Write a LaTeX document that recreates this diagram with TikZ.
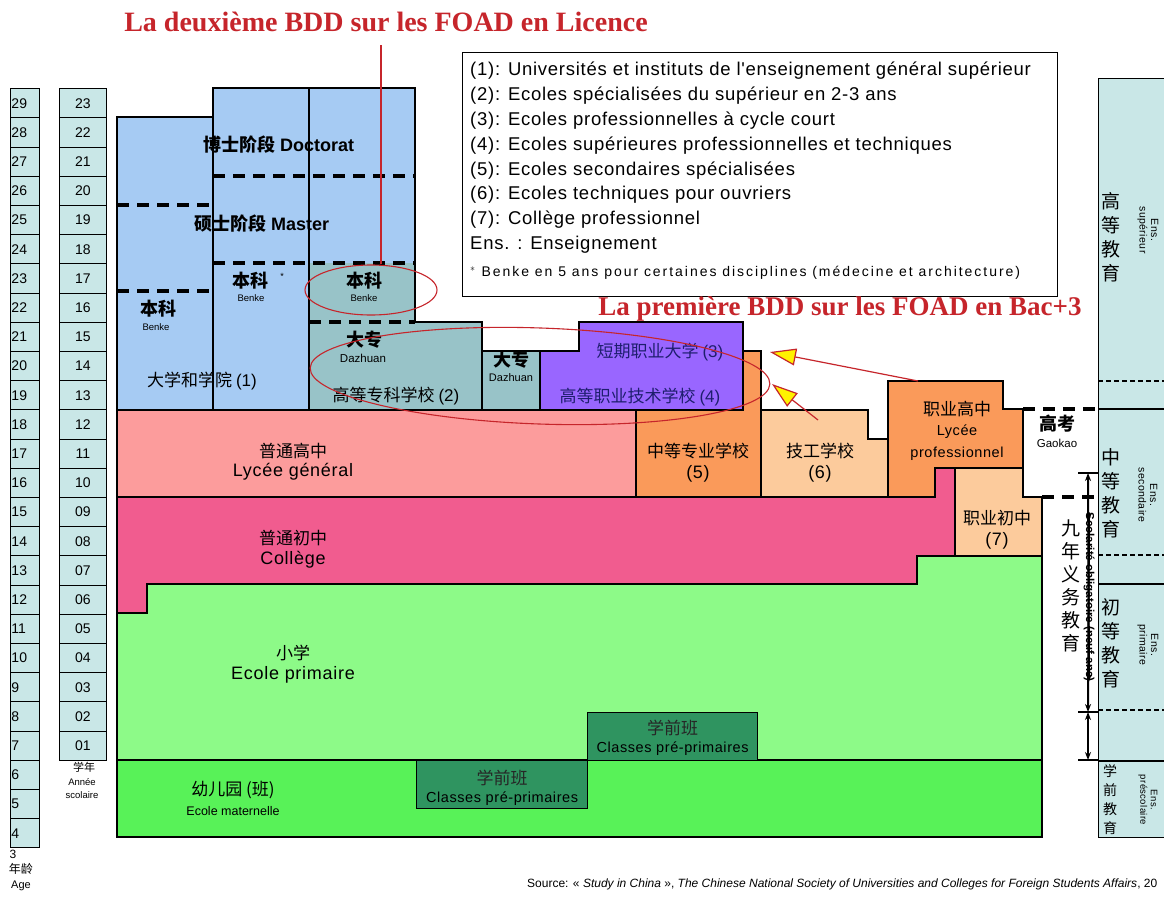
\documentclass[tikz,border=0pt]{standalone}
\usepackage{fontspec}
\setmainfont{Liberation Sans}
\newfontfamily\wide{Liberation Sans}[LetterSpace=4]
\newfontfamily\widest{Liberation Sans}[LetterSpace=14]
\newfontfamily\cjk{Noto Sans CJK SC}
\newfontfamily\tser{Liberation Serif}
\usetikzlibrary{shapes.geometric,arrows.meta}
\newcommand\myfs[2]{\fontsize{#1}{#2}\selectfont}
\definecolor{cteal}{HTML}{C9E7E7}
\definecolor{cblue}{HTML}{A6CBF3}
\definecolor{cteal2}{HTML}{98C3C8}
\definecolor{cpurple}{HTML}{9966FF}
\definecolor{csalmon}{HTML}{FC9C9C}
\definecolor{corange}{HTML}{FA9A5A}
\definecolor{clorange}{HTML}{FCCB9C}
\definecolor{cpink}{HTML}{F15C8F}
\definecolor{clgreen}{HTML}{8DFA88}
\definecolor{cgreen}{HTML}{58F258}
\definecolor{cdgreen}{HTML}{2F9460}
\definecolor{tred}{HTML}{C6252B}
\definecolor{navy}{HTML}{1E1E6E}
\begin{document}
\begin{tikzpicture}[x=1pt,y=-1pt,line join=miter,
  box/.style={draw=black,line width=1.2pt},
  hbox/.style={draw=black,line width=2pt},
  dsh/.style={draw=black,line width=3.2pt,dash pattern=on 12pt off 8pt},
  tdsh/.style={draw=black,line width=1.4pt,dash pattern=on 5pt off 3pt},
  cell/.style={draw=black,line width=1pt,fill=cteal,minimum height=29.2pt,inner sep=1pt,anchor=north west,align=left},
  lab/.style={inner sep=0pt,align=center},
  cn/.style={lab,font=\cjk\myfs{17}{20}},
  cnb/.style={lab,font=\cjk\bfseries\myfs{18}{20}},
  la/.style={lab,font=\wide\myfs{18}{20}},
  sm/.style={lab,font=\myfs{9.5}{11}},
  rot/.style={lab,rotate=-90,font=\wide\myfs{10.5}{11.5}},
  stack/.style={lab,font=\cjk\myfs{19}{24}},
  redline/.style={draw=tred,line width=1.1pt},
  arr/.style={draw=tred,line width=1.2pt,-{Triangle[length=26pt,width=17pt,fill=yellow]}},
  ttl/.style={lab,text=tred,font=\tser\bfseries\myfs{28}{30}}]
\useasboundingbox (0,0) rectangle (1164,900);
\fill[white] (0,0) rectangle (1164,900);

% ---- age and year columns
\foreach \a in {4,...,29}{
  \pgfmathsetmacro\tp{497-(\a-15)*29.2}
  \node[cell,text width=27pt,font=\myfs{14}{16}] (age\a) at (10,\tp) {\a};
}
\foreach \y in {1,...,23}{
  \pgfmathsetmacro\tp{497-(\y-9)*29.2}
  \node[cell,minimum width=47pt,align=center,font=\myfs{14}{16}] (yr\y) at (59,\tp) {\ifnum\y<10 0\fi\y};
}
\node[lab,font=\myfs{12}{13}] (age3) at (13,854) {3};
\node[lab,font=\cjk\myfs{12}{13}] (agecn) at (21,869) {年龄};
\node[lab,font=\myfs{11}{12}] (agefr) at (21,886) {Age};
\node[lab,font=\cjk\myfs{11}{12}] (yrcn) at (84,767) {学年};
\node[lab,font=\myfs{9.5}{10}] (yrfr1) at (82,782) {Année};
\node[lab,font=\myfs{9.5}{10}] (yrfr2) at (82,795) {scolaire};

% ---- higher education
\fill[cblue] (117,117) rectangle (213,410);
\fill[cblue] (213,88) rectangle (415,263);
\fill[cblue] (213,263) rectangle (309,410);
\fill[cteal2] (309,263) -- (415,263) -- (415,322) -- (482,322) -- (482,351) -- (540,351) -- (540,410) -- (309,410) -- cycle;
\fill[cpurple] (540,410) -- (540,351) -- (579,351) -- (579,322) -- (743,322) -- (743,410) -- cycle;
\draw[box] (213,117) -- (213,410);
\draw[box] (309,88) -- (309,410);
\draw[box] (415,322) -- (482,322) -- (482,410);
\draw[box] (482,351) -- (540,351);
\draw[box] (540,410) -- (540,351) -- (579,351) -- (579,322) -- (743,322) -- (743,410);
\draw[hbox] (117,410) -- (117,117) -- (213,117) -- (213,88) -- (415,88) -- (415,322);
\draw[dsh] (117,205) -- (213,205);
\draw[dsh] (117,291) -- (213,291);
\draw[dsh] (213,176) -- (415,176);
\draw[dsh] (213,263) -- (415,263);
\draw[dsh] (309,322) -- (415,322);

% ---- secondary
\fill[csalmon,box] (117,410) rectangle (636,497);
\fill[corange,box] (636,497) -- (636,410) -- (743,410) -- (743,351) -- (761,351) -- (761,497) -- cycle;
\fill[clorange,box] (761,497) -- (761,410) -- (868,410) -- (868,439) -- (888,439) -- (888,497) -- cycle;
\fill[corange,box] (888,497) -- (888,381) -- (1003,381) -- (1003,409) -- (1023,409) -- (1023,468) -- (935,468) -- (935,497) -- cycle;
\fill[cpink,box] (117,613) -- (117,497) -- (935,497) -- (935,468) -- (955,468) -- (955,556) -- (917,556) -- (917,584) -- (147,584) -- (147,613) -- cycle;
\fill[clorange,box] (955,556) -- (955,468) -- (1023,468) -- (1023,497) -- (1042,497) -- (1042,556) -- cycle;
\draw[line width=2pt] (1023,409) -- (1023,497);

% ---- primary and pre-school
\fill[clgreen,box] (117,760) -- (117,613) -- (147,613) -- (147,584) -- (917,584) -- (917,556) -- (1042,556) -- (1042,760) -- cycle;
\fill[cgreen,box] (117,760) rectangle (1042,837);
\node[box,fill=cdgreen,anchor=north west,minimum width=170pt,minimum height=48pt,inner sep=0] (pp1) at (587,712) {};
\node[box,fill=cdgreen,anchor=north west,minimum width=171pt,minimum height=48pt,inner sep=0] (pp2) at (416,760) {};

% ---- gaokao
\draw[dsh] (1023,409) -- (1098,409);
\draw[dsh] (1042,497) -- (1098,497);

% ---- right column
\node[draw=black,line width=1pt,fill=cteal,anchor=north west,minimum width=80pt,minimum height=759pt,inner sep=0] (rc) at (1098,78) {};
\draw[tdsh] (1098,381) -- (1175,381);
\draw[box] (1098,409) -- (1175,409);
\draw[tdsh] (1098,555) -- (1175,555);
\draw[box] (1098,584) -- (1175,584);
\draw[tdsh] (1098,710) -- (1175,710);
\draw[box] (1098,761) -- (1175,761);
\node[stack] (sup) at (1111,237) {高\\等\\教\\育};
\node[rot] (supfr) at (1148,230) {Ens.\\supérieur};
\node[stack] (sec) at (1111,493) {中\\等\\教\\育};
\node[rot] (secfr) at (1148,495) {Ens.\\secondaire};
\node[stack] (pri) at (1111,643) {初\\等\\教\\育};
\node[rot] (prifr) at (1148,645) {Ens.\\primaire};
\node[lab,font=\cjk\myfs{14}{19}] (pre) at (1110,800) {学\\前\\教\\育};
\node[rot,font=\wide\myfs{9.5}{10.5}] (prefr) at (1148,800) {Ens.\\préscolaire};

% ---- compulsory education arrow
\node[stack,font=\cjk\myfs{19}{23}] (nine) at (1071,586) {九\\年\\义\\务\\教\\育};
\node[rot,font=\bfseries\myfs{11.5}{12}] (oblig) at (1089,597) {Scolarité obligatoire (neuf ans)};
\coordinate (k1) at (1088,473);
\coordinate (k2) at (1088,712);
\coordinate (k3) at (1088,760);
\draw[line width=1.4pt] ([xshift=-10pt]k1) -- ([xshift=10pt]k1);
\draw[line width=1.4pt] ([xshift=-10pt]k2) -- ([xshift=10pt]k2);
\draw[line width=1.4pt] ([xshift=-10pt]k3) -- ([xshift=10pt]k3);
\draw[line width=2pt,{Stealth[length=8pt]}-{Stealth[length=8pt]}] (k1) -- (oblig.east);
\draw[line width=2pt,-{Stealth[length=8pt]}] (oblig.west) -- (k2);
\draw[line width=2pt,{Stealth[length=8pt]}-{Stealth[length=8pt]}] (k2) -- (k3);

% ---- labels
\node[cnb] (doc) at (279,145) {博士阶段 {\rmfamily\bfseries Doctorat}};
\node[cnb] (mas) at (262,224) {硕士阶段 {\rmfamily\bfseries Master}};
\node[cnb] (bk1) at (158,309) {本科};
\node[sm] (bk1f) at (156,327) {Benke};
\node[cnb] (bk2) at (250,281) {本科};
\node[lab,font=\myfs{9}{9}] (star) at (282,276) {*};
\node[sm] (bk2f) at (251,298) {Benke};
\node[cnb] (bk3) at (364,281) {本科};
\node[sm] (bk3f) at (364,298) {Benke};
\node[cn] (u1) at (202,381) {大学和学院 {\rmfamily(1)}};
\node[cnb] (dz1) at (364,340) {大专};
\node[lab,font=\myfs{11.5}{12}] (dz1f) at (363,358) {Dazhuan};
\node[cn] (u2) at (396,396) {高等专科学校 {\rmfamily(2)}};
\node[cnb] (dz2) at (511,360) {大专};
\node[lab,font=\myfs{11}{12}] (dz2f) at (511,378) {Dazhuan};
\node[cn,text=navy] (u3) at (660,352) {短期职业大学 {\rmfamily(3)}};
\node[cn,text=navy] (u4) at (640,397) {高等职业技术学校 {\rmfamily(4)}};
\node[cn] (lg) at (293,451) {普通高中};
\node[la] (lgf) at (293,472) {Lycée général};
\node[cn] (s5) at (698,451) {中等专业学校};
\node[la] (s5n) at (698,474) {(5)};
\node[cn] (s6) at (820,451) {技工学校};
\node[la] (s6n) at (820,474) {(6)};
\node[cn] (lp) at (957,409) {职业高中};
\node[lab,font=\wide\myfs{14.5}{22},align=center] (lpf) at (957,443) {Lycée\\professionnel};
\node[cnb] (gk) at (1057,424) {高考};
\node[lab,font=\myfs{11.5}{12}] (gkf) at (1057,443) {Gaokao};
\node[cn] (co) at (293,538) {普通初中};
\node[la] (cof) at (293,560) {Collège};
\node[cn] (s7) at (997,518) {职业初中};
\node[la] (s7n) at (997,541) {(7)};
\node[cn] (pr) at (293,653) {小学};
\node[la] (prf) at (293,675) {Ecole primaire};
\node[cn,text=black!85] (pp1c) at (pp1.center) [yshift=9pt] {学前班};
\node[lab,font=\wide\myfs{14.5}{15}] (pp1f) at (pp1.center) [yshift=-12pt] {Classes pré-primaires};
\node[cn,text=black!85] (pp2c) at (pp2.center) [yshift=7pt] {学前班};
\node[lab,font=\wide\myfs{14.5}{15}] (pp2f) at (pp2.center) [yshift=-14pt] {Classes pré-primaires};
\node[cn] (kg) at (233,790) {幼儿园 (班)};
\node[lab,font=\myfs{12.5}{14}] (kgf) at (233,811) {Ecole maternelle};

% ---- legend
\node[draw=black,line width=1.2pt,anchor=north west,minimum width=595pt,minimum height=244pt,inner sep=0] (leg) at (462,52) {};
\node[anchor=north west,inner sep=0,align=left,font=\wide\myfs{18.5}{24.8}] (legt) at (470,62) {(1): Universités et instituts de l'enseignement général supérieur\\
(2): Ecoles spécialisées du supérieur en 2-3 ans\\
(3): Ecoles professionnelles à cycle court\\
(4): Ecoles supérieures professionnelles et techniques\\
(5): Ecoles secondaires spécialisées\\
(6): Ecoles techniques pour ouvriers\\
(7): Collège professionnel\\
Ens. : Enseignement};
\node[anchor=west,inner sep=0,font=\widest\myfs{14}{15}] (legs) at (470,273) {$^*$ Benke en 5 ans pour certaines disciplines (médecine et architecture)};

% ---- red annotations
\node[ttl] (t1) at (386,22) {La deuxième BDD sur les FOAD en Licence};
\node[ttl,font=\tser\bfseries\myfs{27}{29}] (t2) at (840,309) {La première BDD sur les FOAD en Bac+3};
\node[draw=tred,line width=1.1pt,ellipse,minimum width=132pt,minimum height=50pt] (e1) at (371,290) {};
\node[draw=tred,line width=1.1pt,ellipse,minimum width=460pt,minimum height=96pt,rotate=-2] (e2) at (540,376) {};
\coordinate (l1) at (381,45);
\draw[redline] (l1) -- (l1 |- e1.north);
\coordinate (a1s) at (918,381);
\coordinate (a1e) at (770,352);
\coordinate (a2s) at (818,420);
\coordinate (a2e) at (772,384);
\draw[arr] (a1s) -- (a1e);
\draw[arr] (a2s) -- (a2e);

% ---- source
\node[anchor=west,inner sep=0,font=\myfs{12}{13}] (src) at (527,884) {Source: « \textit{Study in China} », \textit{The Chinese National Society of Universities and Colleges for Foreign Students Affairs}, 20};
\end{tikzpicture}
\end{document}
